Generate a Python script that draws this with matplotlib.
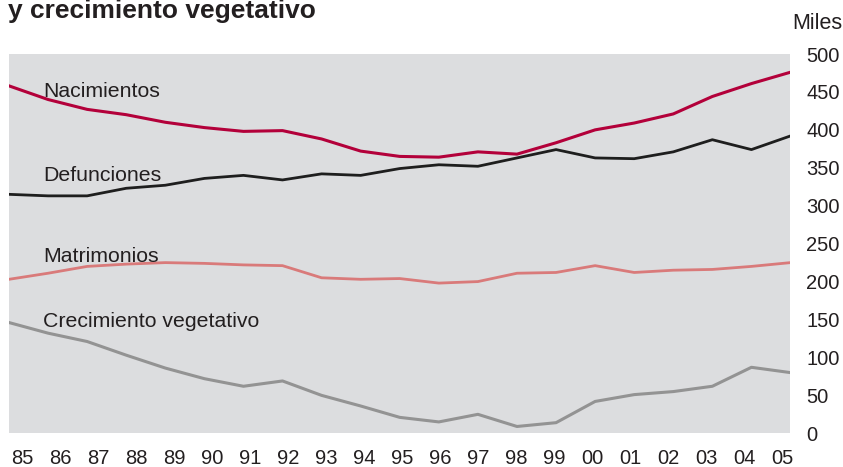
import matplotlib
matplotlib.use("Agg")
import matplotlib.pyplot as plt
import numpy as np

years = list(range(1985, 2006))
year_labels = ["85", "86", "87", "88", "89", "90", "91", "92", "93", "94", "95",
               "96", "97", "98", "99", "00", "01", "02", "03", "04", "05"]
nacimientos = [458, 440, 427, 420, 410, 403, 398, 399, 388, 372, 365,
               364, 371, 368, 383, 400, 409, 421, 444, 461, 476]
defunciones = [315, 313, 313, 323, 327, 336, 340, 334, 342, 340, 349,
               354, 352, 363, 374, 363, 362, 371, 387, 374, 392]
matrimonios = [203, 211, 220, 223, 225, 224, 222, 221, 205, 203, 204,
               198, 200, 211, 212, 221, 212, 215, 216, 220, 225]
crecimiento = [146, 132, 121, 103, 86, 72, 62, 69, 50, 36, 21,
               15, 25, 9, 14, 42, 51, 55, 62, 87, 80]
y_ticks = [0, 50, 100, 150, 200, 250, 300, 350, 400, 450, 500]

plt.rcParams['font.family'] = ['Liberation Sans', 'DejaVu Sans']
txt = '#231f20'

fig = plt.figure(figsize=(8.43, 4.67), dpi=100)
ax = fig.add_axes([9/843, (467-433.3)/467, 781.5/843, 379.3/467])
ax.set_facecolor('#dcdddf')
for s in ax.spines.values():
    s.set_visible(False)

ax.plot(years, nacimientos, color='#b3003a', lw=2.2)
ax.plot(years, defunciones, color='#1e1e1e', lw=2.0)
ax.plot(years, matrimonios, color='#d97a7a', lw=2.0)
ax.plot(years, crecimiento, color='#939393', lw=2.2)

ax.set_xlim(1985, 2005)
ax.set_ylim(0, 500)

xt = np.linspace(1985.33, 2004.80, len(year_labels))
ax.set_xticks(xt)
ax.set_xticklabels(year_labels)
ax.set_yticks(y_ticks)
ax.set_yticklabels([str(v) for v in y_ticks])
ax.yaxis.tick_right()
ax.tick_params(axis='both', length=0, labelsize=14.5, colors=txt)
ax.tick_params(axis='x', pad=11)
ax.tick_params(axis='y', pad=11.5)

lx = 1985.87
fs = 15.3
ax.text(lx, 443, 'Nacimientos', fontsize=fs, color=txt, va='baseline')
ax.text(lx, 333, 'Defunciones', fontsize=fs, color=txt, va='baseline')
ax.text(lx, 226, 'Matrimonios', fontsize=fs, color=txt, va='baseline')
ax.text(lx, 140, 'Crecimiento vegetativo', fontsize=fs, color=txt, va='baseline')

fig.text(8/843, 1 - 18/467, 'y crecimiento vegetativo', fontsize=19,
         fontweight='bold', color=txt, va='baseline', ha='left')
fig.text(842/843, 1 - 29/467, 'Miles', fontsize=15.5, color=txt,
         va='baseline', ha='right')

fig.savefig('out.png', dpi=100)
